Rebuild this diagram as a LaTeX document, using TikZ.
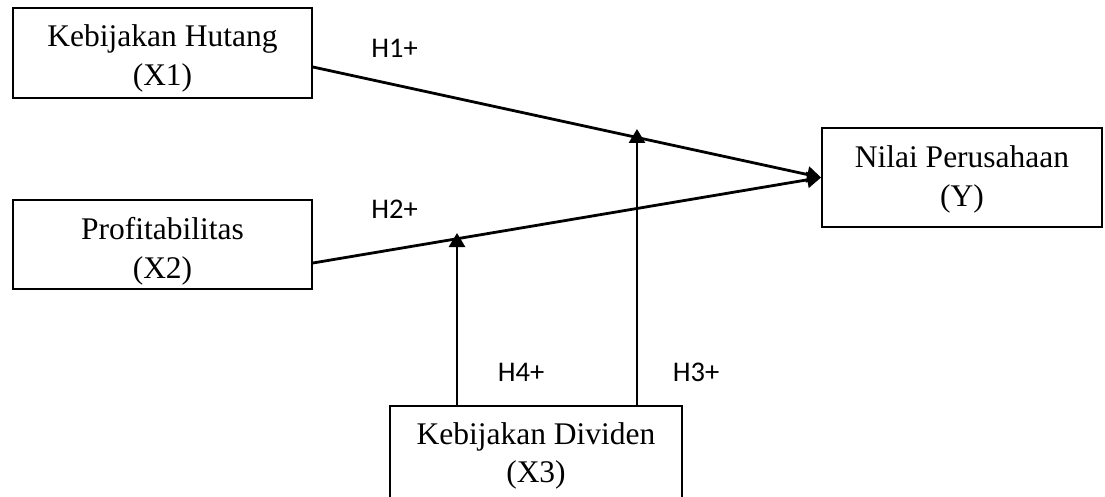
\documentclass[tikz,border=0pt]{standalone}
\usepackage{fontspec}
\setmainfont{Liberation Serif}
\newfontfamily\labfont{Carlito}
\usetikzlibrary{arrows.meta}
\tikzset{
  boxnode/.style={draw=black, line width=1.8pt, minimum width=#1, inner sep=0pt},
  boxtext/.style={align=center, inner sep=0pt, font=\fontsize{31.5}{38.5}\selectfont},
  conn/.style={line width=2.8pt, -{Triangle[length=14pt,width=16pt]}},
  hlabel/.style={anchor=base, inner sep=0pt, font=\labfont\fontsize{28.5}{34}\selectfont}
}
\begin{document}
\begin{tikzpicture}[x=1pt,y=-1pt]
\useasboundingbox (0,0) rectangle (1105,497);
\clip (0,0) rectangle (1105,497);
% boxes
\node[boxnode=299pt, minimum height=90pt] (x1) at (162.5,53) {};
\node[boxnode=299pt, minimum height=89pt] (x2) at (162.5,244.5) {};
\node[boxnode=280pt, minimum height=99pt] (y) at (962,177.5) {};
\node[minimum width=292pt, minimum height=100pt, inner sep=0pt] (x3) at (536,456) {};
\draw[line width=1.8pt] (x3.south west) -- (x3.north west) -- (x3.north east) -- (x3.south east);
% texts
\node[boxtext] (x1t) at (162.5,58.3) {Kebijakan Hutang\\(X1)};
\node[boxtext] (x2t) at (162.5,251.3) {Profitabilitas\\(X2)};
\node[boxtext] (yt) at (962,179.3) {Nilai Perusahaan\\(Y)};
\node[boxtext] (x3t) at (536,456) {Kebijakan Dividen\\(X3)};
% moderation tips
\coordinate (t1) at (637,129);
\coordinate (t2) at (457,233);
% connectors
\draw[conn] ([yshift=-14pt]x1.east) -- (y.west);
\draw[conn] ([yshift=-18.5pt]x2.east) -- (y.west);
\draw[conn] (t1 |- x3.north) -- (t1);
\draw[conn] (t2 |- x3.north) -- (t2);
% labels
\node[hlabel] (h1) at (394.5,57.3) {H1+};
\node[hlabel] (h2) at (394.5,218.3) {H2+};
\node[hlabel] (h4) at (521,381) {H4+};
\node[hlabel] (h3) at (696,381) {H3+};
\end{tikzpicture}
\end{document}
